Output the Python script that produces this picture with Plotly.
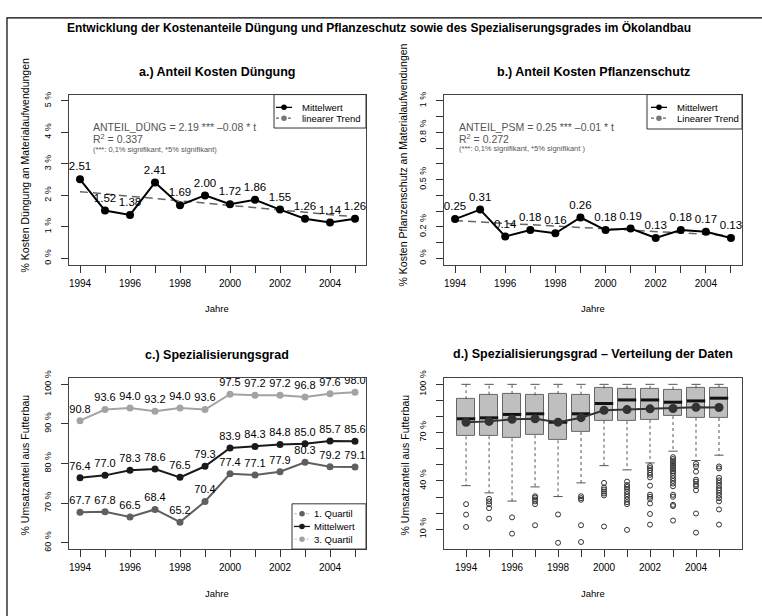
import plotly.graph_objects as go

# ---------------- data ----------------
years = [1994, 1995, 1996, 1997, 1998, 1999, 2000, 2001, 2002, 2003, 2004, 2005]
year_ticks = [1994, 1996, 1998, 2000, 2002, 2004]
year_labels = ["1994", "1996", "1998", "2000", "2002", "2004"]
year_minor = [1995, 1997, 1999, 2001, 2003, 2005]

dueng_mean = [2.51, 1.52, 1.38, 2.41, 1.69, 2.00, 1.72, 1.86, 1.55, 1.26, 1.14, 1.26]
dueng_trend_years = [1994, 2005]
dueng_trend = [2.12, 1.32]

psm_mean = [0.25, 0.31, 0.14, 0.18, 0.16, 0.26, 0.18, 0.19, 0.13, 0.18, 0.17, 0.13]
psm_trend_years = [1994, 2005]
psm_trend = [0.24, 0.145]

spez_q1 = [67.7, 67.8, 66.5, 68.4, 65.2, 70.4, 77.4, 77.1, 77.9, 80.3, 79.2, 79.1]
spez_mean = [76.4, 77.0, 78.3, 78.6, 76.5, 79.3, 83.9, 84.3, 84.8, 85.0, 85.7, 85.6]
spez_q3 = [90.8, 93.6, 94.0, 93.2, 94.0, 93.6, 97.5, 97.2, 97.2, 96.8, 97.6, 98.0]

spez_median = [78.6, 79.2, 81.3, 81.7, 76.5, 81.7, 88.1, 90.3, 90.3, 88.9, 89.7, 91.4]
spez_upper = [100, 100, 100, 100, 100, 100, 100, 100, 100, 100, 100, 100]
spez_lower = [37.1, 32.6, 27.5, 36.3, 30.3, 38.8, 49.5, 46.9, 51.2, 58.5, 52.7, 56.0]
spez_outliers = [
    [25.6, 19.1, 11.4],
    [28.9, 27.3, 25.6, 23.1, 16.6],
    [17.4, 7.3],
    [30.5, 29.7, 28.5, 27.3, 25.6, 12.5],
    [19.2, 1.6],
    [30.5, 29.3, 28.3, 12.5, 2.1],
    [38.8, 35.9, 34.7, 33.4, 32.2, 31.0, 11.7],
    [39.6, 37.5, 36.3, 35.1, 33.4, 31.8, 30.2, 28.5, 26.8, 25.6, 9.6],
    [49.2, 48.0, 46.7, 45.1, 43.8, 42.2, 37.1, 31.5, 30.2, 28.9, 26.0, 19.5, 12.9],
    [54.8, 53.6, 52.3, 51.1, 49.9, 48.7, 47.4, 46.2, 45.0, 43.3, 41.7, 40.0, 38.4,
     36.7, 31.4, 30.2, 25.2, 24.4, 15.4],
    [50.6, 49.0, 45.8, 40.8, 39.6, 37.9, 36.7, 34.2, 19.8, 7.9],
    [49.0, 47.8, 42.0, 40.4, 38.8, 37.1, 35.5, 34.2, 32.6, 31.0, 29.3, 27.3, 22.3, 12.9],
]

ticks_a = [0, 1, 2, 3, 4, 5]
ticks_a_text = ["0 %", "1 %", "2 %", "3 %", "4 %", "5 %"]
ticks_a_minor = []
ticks_b = [0, 0.2, 0.5, 0.8, 1.0]
ticks_b_text = ["0 %", "0.2 %", "0.5 %", "0.8 %", "1 %"]
ticks_b_minor = [0.1, 0.3, 0.4, 0.6, 0.7, 0.9]
ticks_c = [60, 70, 80, 90, 100]
ticks_c_text = ["60 %", "70 %", "80 %", "90 %", "100 %"]
ticks_c_minor = []
ticks_d = [10, 40, 70, 100]
ticks_d_text = ["10 %", "40 %", "70 %", "100 %"]
ticks_d_minor = [20, 30, 50, 60, 80, 90]

# ---------------- style ----------------
FONT = "Liberation Sans, Arial, sans-serif"
W, H = 762, 616
GRAY_TXT = "#555555"

def px_x(p):
    return p / W

def px_y(p):
    return 1 - p / H

fig = go.Figure()

# panel a
fig.add_trace(go.Scatter(x=dueng_trend_years, y=dueng_trend, mode="lines",
                         line=dict(color="#666666", width=1.5, dash="8px,5px"),
                         showlegend=False, xaxis="x", yaxis="y", hoverinfo="skip"))
fig.add_trace(go.Scatter(x=years, y=dueng_mean, mode="lines+markers+text",
                         text=[f"{v:.2f}" for v in dueng_mean], textposition="top center",
                         textfont=dict(size=11.5, color="#000000"),
                         line=dict(color="#000000", width=2), marker=dict(size=8, color="#000000"),
                         showlegend=False, xaxis="x", yaxis="y"))

# panel b
fig.add_trace(go.Scatter(x=psm_trend_years, y=psm_trend, mode="lines",
                         line=dict(color="#666666", width=1.5, dash="8px,5px"),
                         showlegend=False, xaxis="x2", yaxis="y2", hoverinfo="skip"))
fig.add_trace(go.Scatter(x=years, y=psm_mean, mode="lines+markers+text",
                         text=[f"{v:.2f}" for v in psm_mean], textposition="top center",
                         textfont=dict(size=11.5, color="#000000"),
                         line=dict(color="#000000", width=2), marker=dict(size=8, color="#000000"),
                         showlegend=False, xaxis="x2", yaxis="y2"))

# panel c
C_Q1, C_MEAN, C_Q3 = "#5f5f5f", "#1a1a1a", "#a3a3a3"
for vals, col in [(spez_q1, C_Q1), (spez_mean, C_MEAN), (spez_q3, C_Q3)]:
    fig.add_trace(go.Scatter(x=years, y=vals, mode="lines+markers+text",
                             text=[f"{v:.1f}" for v in vals], textposition="top center",
                             textfont=dict(size=11, color="#000000"),
                             line=dict(color=col, width=2), marker=dict(size=7, color=col),
                             showlegend=False, xaxis="x3", yaxis="y3"))

# panel d boxes
fig.add_trace(go.Bar(x=years, y=[b - a for a, b in zip(spez_q1, spez_q3)], base=spez_q1,
                     width=0.8, marker=dict(color="#bfbfbf", line=dict(color="#666666", width=1)),
                     showlegend=False, xaxis="x4", yaxis="y4", hoverinfo="skip"))
wx, wy, cx, cy, mx, my = [], [], [], [], [], []
for yr, lo, q1, q3, up, md in zip(years, spez_lower, spez_q1, spez_q3, spez_upper, spez_median):
    wx += [yr, yr, None, yr, yr, None]
    wy += [q3, up, None, q1, lo, None]
    cx += [yr - 0.2, yr + 0.2, None, yr - 0.2, yr + 0.2, None]
    cy += [up, up, None, lo, lo, None]
    mx += [yr - 0.4, yr + 0.4, None]
    my += [md, md, None]
fig.add_trace(go.Scatter(x=wx, y=wy, mode="lines", line=dict(color="#555555", width=1, dash="3px,3px"),
                         showlegend=False, xaxis="x4", yaxis="y4", hoverinfo="skip"))
fig.add_trace(go.Scatter(x=cx, y=cy, mode="lines", line=dict(color="#555555", width=1),
                         showlegend=False, xaxis="x4", yaxis="y4", hoverinfo="skip"))
fig.add_trace(go.Scatter(x=mx, y=my, mode="lines", line=dict(color="#111111", width=3),
                         showlegend=False, xaxis="x4", yaxis="y4", hoverinfo="skip"))
ox, oy = [], []
for yr, outs in zip(years, spez_outliers):
    ox += [yr] * len(outs)
    oy += outs
fig.add_trace(go.Scatter(x=ox, y=oy, mode="markers",
                         marker=dict(symbol="circle-open", size=5, color="#333333", line=dict(width=1)),
                         showlegend=False, xaxis="x4", yaxis="y4", hoverinfo="skip"))
fig.add_trace(go.Scatter(x=years, y=spez_mean, mode="lines+markers",
                         line=dict(color="#333333", width=2), marker=dict(size=9, color="#333333"),
                         showlegend=False, xaxis="x4", yaxis="y4"))

# ---------------- axes ----------------
def minor(vals):
    return dict(tickvals=vals, ticks="outside", ticklen=7, tickcolor="#333333", showgrid=False)

def xaxis(dom, rng, anchor):
    return dict(domain=dom, range=rng, tickvals=year_ticks, ticktext=year_labels, ticks="outside",
                ticklen=7, tickcolor="#333333", showline=True, linecolor="#444444", linewidth=1,
                mirror=True, showgrid=False, zeroline=False, tickfont=dict(size=10, color="#000"),
                anchor=anchor, ticklabelstandoff=2, minor=minor(year_minor))

def yaxis(dom, rng, tv, tt, mv, anchor):
    d = dict(domain=dom, range=rng, tickvals=tv, ticktext=tt, ticks="outside", ticklen=7,
             tickcolor="#333333", showline=True, linecolor="#444444", linewidth=1, mirror=True,
             showgrid=False, zeroline=False, tickangle=-90, tickfont=dict(size=9, color="#000"),
             anchor=anchor, ticklabelstandoff=6)
    if mv:
        d["minor"] = minor(mv)
    return d

dom_left = [px_x(69), px_x(366)]
dom_right = [px_x(444), px_x(742)]
dom_top = [px_y(261), px_y(88)]
dom_bot = [px_y(550), px_y(376)]

fig.update_layout(
    width=W, height=H, margin=dict(l=0, r=0, t=0, b=0),
    paper_bgcolor="white", plot_bgcolor="white", showlegend=False,
    font=dict(family=FONT, color="#000000"),
    xaxis=xaxis(dom_left, [1993.56, 2005.44], "y"),
    yaxis=yaxis(dom_top, [-0.2, 5.2], ticks_a, ticks_a_text, ticks_a_minor, "x"),
    xaxis2=xaxis(dom_right, [1993.56, 2005.44], "y2"),
    yaxis2=yaxis(dom_top, [-0.04, 1.04], ticks_b, ticks_b_text, ticks_b_minor, "x2"),
    xaxis3=xaxis(dom_left, [1993.56, 2005.44], "y3"),
    yaxis3=yaxis(dom_bot, [58.4, 101.6], ticks_c, ticks_c_text, ticks_c_minor, "x3"),
    xaxis4=xaxis(dom_right, [1993.04, 2006.0], "y4"),
    yaxis4=yaxis(dom_bot, [-2.3, 104.0], ticks_d, ticks_d_text, ticks_d_minor, "x4"),
    bargap=0,
)

ann = []
shapes = []

def text(x, y, s, size=11, bold=False, color="#000", angle=0, xanchor="center"):
    ann.append(dict(x=px_x(x), y=px_y(y), xref="paper", yref="paper", text=f"<b>{s}</b>" if bold else s,
                    showarrow=False, font=dict(size=size, color=color), textangle=angle,
                    xanchor=xanchor, yanchor="middle"))

def rect(x0, y0, x1, y1, color="#333333", width=1, fill="white"):
    shapes.append(dict(type="rect", xref="paper", yref="paper", x0=px_x(x0), x1=px_x(x1),
                       y0=px_y(y1), y1=px_y(y0), line=dict(color=color, width=width), fillcolor=fill,
                       layer="above"))

def hline(x0, x1, y, color, width=1.5, dash="solid"):
    shapes.append(dict(type="line", xref="paper", yref="paper", x0=px_x(x0), x1=px_x(x1),
                       y0=px_y(y), y1=px_y(y), line=dict(color=color, width=width, dash=dash),
                       layer="above"))

def dot(x, y, r, color):
    shapes.append(dict(type="circle", xref="paper", yref="paper", x0=px_x(x - r), x1=px_x(x + r),
                       y0=px_y(y + r), y1=px_y(y - r), line=dict(color=color, width=0), fillcolor=color,
                       layer="above"))

def legend(box, x_line, x_text, rows, size=10):
    rect(*box)
    for (yy, label, col, lcol, dash) in rows:
        hline(x_line[0], x_line[1], yy, lcol, width=1.3, dash=dash)
        dot((x_line[0] + x_line[1]) / 2, yy, 2.8, col)
        text(x_text, yy, label, size=size, xanchor="left")

# titles
text(379, 20, "Entwicklung der Kostenanteile Düngung und Pflanzeschutz sowie des Spezialiserungsgrades im Ökolandbau", size=12, bold=True)
text(217, 65, "a.) Anteil Kosten Düngung", size=12.5, bold=True)
text(593, 65, "b.) Anteil Kosten Pflanzenschutz", size=12.5, bold=True)
text(217, 353, "c.) Spezialisierungsgrad", size=12.5, bold=True)
text(593, 352, "d.) Spezialisierungsgrad – Verteilung der Daten", size=12.5, bold=True)
for xx, yy in [(217, 305), (593, 305), (217, 595), (593, 595)]:
    text(xx, yy, "Jahre", size=9.5)
text(25, 160, "% Kosten Düngung an Materialaufwendungen", size=10.5, angle=-90)
text(403, 160, "% Kosten Pflanzenschutz an Materialaufwendungen", size=10.5, angle=-90)
text(25, 465, "% Umsatzanteil aus Futterbau", size=10.5, angle=-90)
text(405, 465, "% Umsatzanteil aus Futterbau", size=10.5, angle=-90)

# regression notes
text(91, 121, "ANTEIL_DÜNG = 2.19 *** –0.08 * t", size=10.5, color=GRAY_TXT, xanchor="left")
text(91, 133, "R<sup>2</sup> = 0.337", size=10.5, color=GRAY_TXT, xanchor="left")
text(91, 144, "(***: 0,1% signifikant, *5% signifikant)", size=7.5, color=GRAY_TXT, xanchor="left")
text(457, 121, "ANTEIL_PSM = 0.25 *** –0.01 * t", size=10.5, color=GRAY_TXT, xanchor="left")
text(457, 133, "R<sup>2</sup> = 0.272", size=10.5, color=GRAY_TXT, xanchor="left")
text(457, 143, "(***: 0,1% signifikant, *5% signifikant )", size=7.5, color=GRAY_TXT, xanchor="left")

# legends
legend((274, 88, 366, 122), (276, 292), 300,
       [(101, "Mittelwert", "#000000", "#000000", "solid"),
        (112, "linearer Trend", "#777777", "#666666", "3px,3px")], size=9.5)
legend((647, 88, 742, 123), (651, 667), 675,
       [(101, "Mittelwert", "#000000", "#000000", "solid"),
        (112, "Linearer Trend", "#777777", "#666666", "3px,3px")], size=9.5)
legend((292, 504, 366, 550), (294, 310), 312,
       [(514, "1. Quartil", C_Q1, "#cfcfcf", "dot"),
        (527, "Mittelwert", C_MEAN, C_MEAN, "solid"),
        (540, "3. Quartil", C_Q3, "#dddddd", "dot")], size=9.5)

# outer frame
shapes.append(dict(type="rect", xref="paper", yref="paper", x0=px_x(7), x1=px_x(775), y0=px_y(630),
                   y1=px_y(10), line=dict(color="#000000", width=1.2), fillcolor="rgba(0,0,0,0)",
                   layer="above"))

fig.update_layout(annotations=ann, shapes=shapes)

fig.write_html("out.html", config={"displayModeBar": False},
               post_script="document.body.style.margin='0px';document.body.style.overflow='hidden';")
